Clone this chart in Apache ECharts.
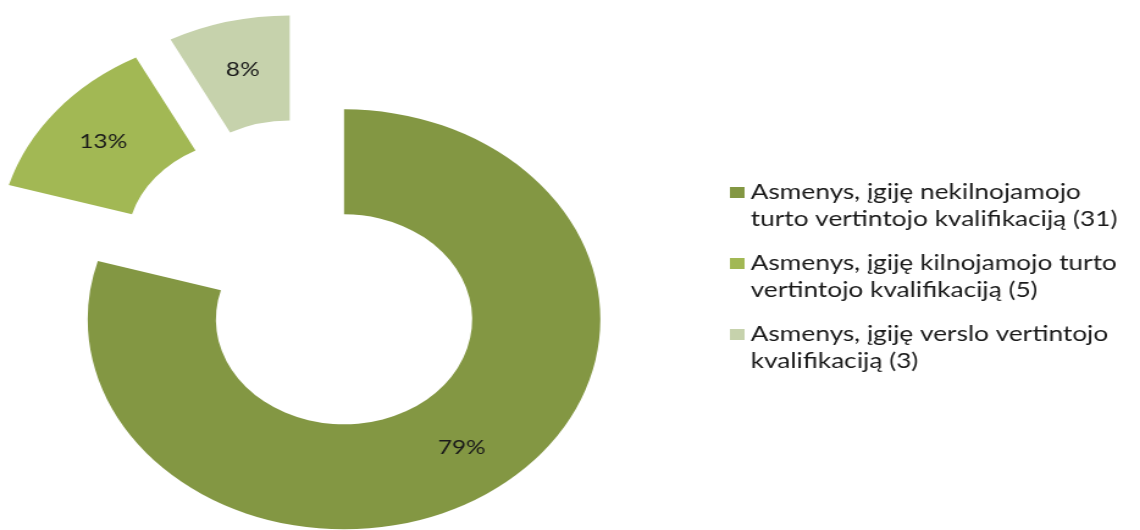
<!DOCTYPE html>
<html>
<head>
<meta charset="utf-8">
<script src="https://cdn.jsdelivr.net/npm/echarts@6/dist/echarts.min.js"></script>
<style>
html,body{margin:0;padding:0;background:#fff;overflow:hidden;}
#wrap{width:1140px;height:530px;overflow:hidden;position:relative;}
#chart{width:934px;height:530px;transform:scaleX(1.2206);transform-origin:0 0;}
</style>
</head>
<body>
<div id="wrap"><div id="chart"></div></div>
<script>
// Data
const categories = [
  'Asmenys, įgiję nekilnojamojo turto vertintojo kvalifikaciją (31)',
  'Asmenys, įgiję kilnojamojo turto vertintojo kvalifikaciją (5)',
  'Asmenys, įgiję verslo vertintojo kvalifikaciją (3)'
];
const legendLines = [
  ['Asmenys, įgiję nekilnojamojo', 'turto vertintojo kvalifikaciją (31)'],
  ['Asmenys, įgiję kilnojamojo turto', 'vertintojo kvalifikaciją (5)'],
  ['Asmenys, įgiję verslo vertintojo', 'kvalifikaciją (3)']
];
const counts = [31, 5, 3];
const colors = ['#839743', '#A2B854', '#C6D2AC'];

const chart = echarts.init(document.getElementById('chart'), null, {renderer: 'canvas'});
const FONT = 'Lato';
chart.setOption({
  animation: false,
  backgroundColor: '#ffffff',
  legend: {
    orient: 'vertical',
    left: 598,
    top: 152,
    padding: 0,
    itemWidth: 12,
    itemHeight: 11,
    itemGap: -10,
    icon: 'rect',
    selectedMode: false,
    data: categories,
    formatter: function (name) {
      const i = categories.indexOf(name);
      // leading blank line keeps the first text line level with the marker
      return ' \n' + legendLines[i].join('\n');
    },
    textStyle: {
      fontFamily: FONT,
      fontSize: 21.5,
      lineHeight: 27,
      color: '#1a1a1a'
    }
  },
  series: [{
    type: 'pie',
    center: [250, 277],
    radius: [105, 210],
    startAngle: 90,
    clockwise: true,
    selectedMode: 'multiple',
    selectedOffset: 53,
    percentPrecision: 0,
    avoidLabelOverlap: false,
    emphasis: {disabled: true},
    itemStyle: {borderWidth: 0},
    label: {
      show: true,
      position: 'inside',
      formatter: '{d}%',
      fontFamily: FONT,
      fontSize: 20,
      color: '#1a1a1a'
    },
    labelLine: {show: false},
    data: categories.map(function (n, i) {
      return {name: n, value: counts[i], selected: true, itemStyle: {color: colors[i]}};
    })
  }]
});
</script>
</body>
</html>
